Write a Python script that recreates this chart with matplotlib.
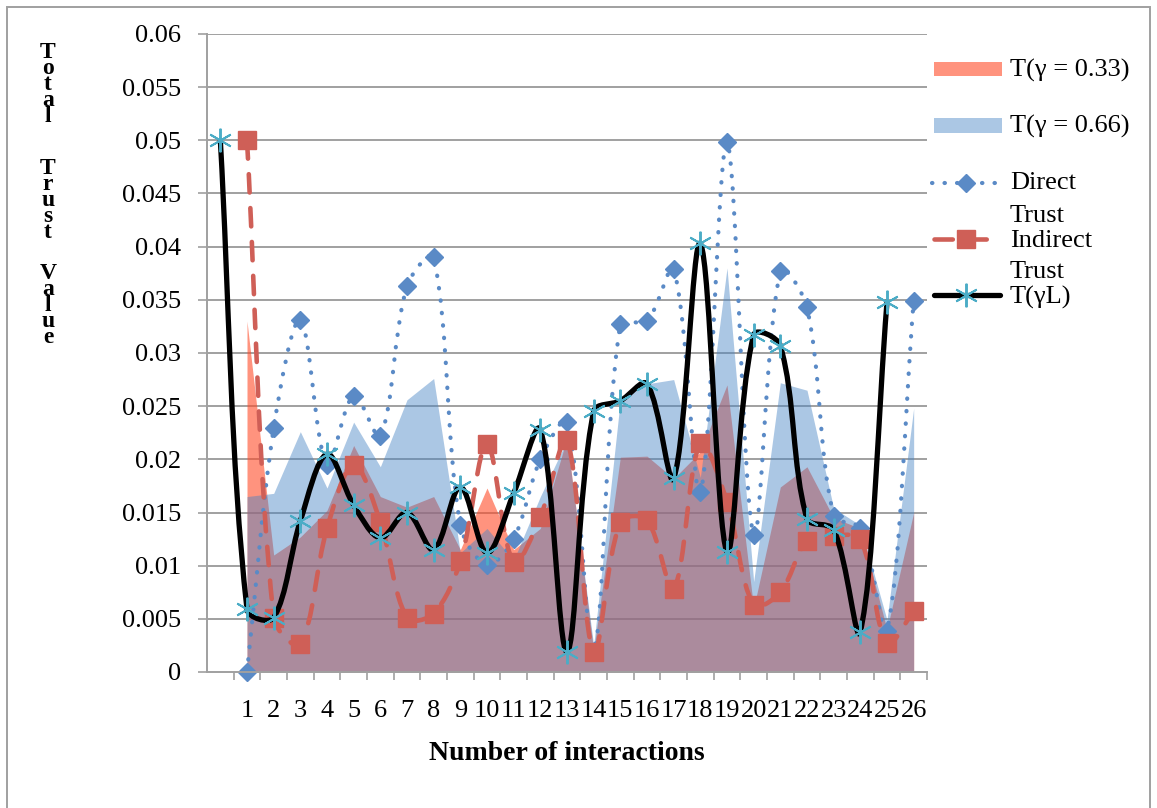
import numpy as np
import matplotlib
matplotlib.use("Agg")
import matplotlib.pyplot as plt
from matplotlib.path import Path
from matplotlib.patches import PathPatch, Rectangle
from matplotlib.lines import Line2D

plt.rcParams['font.family'] = ['Liberation Serif', 'DejaVu Serif']

nan = np.nan
labels = ['', '1', '2', '3', '4', '5', '6', '7', '8', '9', '10', '11', '12', '13',
          '14', '15', '16', '17', '18', '19', '20', '21', '22', '23', '24', '25', '26']

# area series (category 0 empty)
t033 = [nan, 0.033, 0.011, 0.0127, 0.0152, 0.0213, 0.0165, 0.0155, 0.0165, 0.0115,
        0.0173, 0.0115, 0.0135, 0.022, 0.002, 0.0202, 0.0203, 0.0182, 0.0207, 0.027,
        0.006, 0.0174, 0.0193, 0.0145, 0.0135, 0.004, 0.015]
t066 = [nan, 0.0165, 0.0168, 0.0226, 0.0173, 0.0235, 0.0193, 0.0256, 0.0276, 0.0112,
        0.0135, 0.0105, 0.0165, 0.0218, 0.0025, 0.0256, 0.0271, 0.0275, 0.0183, 0.038,
        0.0085, 0.0272, 0.0265, 0.0154, 0.0138, 0.0049, 0.0248]

# line series
direct = [nan, 0.0, 0.0229, 0.0331, 0.0195, 0.026, 0.0222, 0.0363, 0.039, 0.0138,
          0.0101, 0.0125, 0.02, 0.0235, 0.002, 0.0327, 0.033, 0.0379, 0.0169, 0.0498,
          0.0129, 0.0377, 0.0343, 0.0147, 0.0135, 0.0039, 0.0349]
indirect = [nan, 0.05, 0.0051, 0.0026, 0.0135, 0.0195, 0.0141, 0.0051, 0.0055, 0.0104,
            0.0214, 0.0103, 0.0146, 0.0218, 0.0019, 0.0141, 0.0143, 0.0078, 0.0215, 0.016,
            0.0063, 0.0075, 0.0123, 0.0128, 0.0125, 0.0027, 0.0057]
trust_l = [0.05, 0.0059, 0.0051, 0.0142, 0.0205, 0.0157, 0.0126, 0.015, 0.0115, 0.0174,
           0.0112, 0.0168, 0.0228, 0.0019, 0.0245, 0.0255, 0.0271, 0.0182, 0.0403, 0.0113,
           0.0317, 0.0307, 0.0144, 0.0134, 0.0038, 0.0348, nan]

yticks = [0, 0.005, 0.01, 0.015, 0.02, 0.025, 0.03, 0.035, 0.04, 0.045, 0.05, 0.055, 0.06]
ylabels = ['0', '0.005', '0.01', '0.015', '0.02', '0.025', '0.03', '0.035', '0.04',
           '0.045', '0.05', '0.055', '0.06']

c_red_area = '#FF4B28'
c_blue_area = '#4683C4'
c_direct = '#5A8AC6'
c_indirect = '#CF5F57'
c_star = '#4BACC6'
c_grid = '#A0A0A0'

W, H = 1157, 808
AX_W, AX_H = 720, 638


def smooth(xs, ys):
    # excel-like smoothed line: bezier with tangents weighted by segment length
    p = np.array([(a, b) for a, b in zip(xs, ys) if not np.isnan(b)])
    scale = np.array([AX_W / len(labels), AX_H / 0.06])
    q = p * scale
    n = len(q)
    cin = q.copy()
    cout = q.copy()
    for i in range(n):
        a = q[max(i - 1, 0)]
        b = q[min(i + 1, n - 1)]
        d1 = np.hypot(*(q[i] - a))
        d2 = np.hypot(*(b - q[i]))
        if d1 + d2 == 0:
            continue
        t = b - a
        cin[i] = q[i] - t * d1 / (d1 + d2) / 3
        cout[i] = q[i] + t * d2 / (d1 + d2) / 3
    verts = [q[0]]
    codes = [Path.MOVETO]
    for i in range(n - 1):
        verts += [cout[i], cin[i + 1], q[i + 1]]
        codes += [Path.CURVE4] * 3
    return Path(np.array(verts) / scale, codes)


fig = plt.figure(figsize=(W / 100, H / 100), dpi=100)
ax = fig.add_axes([207 / W, 1 - 672 / H, AX_W / W, AX_H / H])

x = np.arange(len(labels))

for v in yticks[1:]:
    ax.axhline(v, color=c_grid, lw=1.4, zorder=0.5)

ax.fill_between(x, t033, color=c_red_area, alpha=0.6, lw=0, zorder=1)
ax.fill_between(x, t066, color=c_blue_area, alpha=0.45, lw=0, zorder=1.1)

ax.add_patch(PathPatch(smooth(x, direct), fill=False, edgecolor=c_direct, lw=3.0,
                       linestyle=(0, (0.1, 2.9)), capstyle='round', zorder=2))
ax.plot(x, direct, ls='none', marker='D', ms=9.5, color=c_direct, zorder=2.1, clip_on=False)

ax.add_patch(PathPatch(smooth(x, indirect), fill=False, edgecolor=c_indirect, lw=3.3,
                       linestyle=(0, (4.0, 3.4)), capstyle='round', zorder=3))
ax.plot(x, indirect, ls='none', marker='s', ms=13, color=c_indirect, zorder=3.1, clip_on=False)

ax.add_patch(PathPatch(smooth(x, trust_l), fill=False, edgecolor='black', lw=3.8,
                       capstyle='round', joinstyle='round', zorder=4))
ax.plot(x, trust_l, ls='none', marker=(6, 2, 0), ms=17, mew=1.4, color=c_star, zorder=4.1,
        clip_on=False)

ax.set_xlim(-0.5, len(labels) - 0.5)
ax.set_ylim(0, 0.06)
ax.set_yticks(yticks)
ax.set_yticklabels(ylabels, fontsize=19)
ax.tick_params(axis='y', length=6.5, width=1.2, color=c_grid, pad=12)

ax.set_xticks(np.arange(0.5, len(labels)))
ax.set_xticklabels([])
ax.set_xticks(x, minor=True)
ax.set_xticklabels(labels, minor=True, fontsize=19)
ax.tick_params(axis='x', which='major', length=6, width=1.2, color=c_grid)
ax.tick_params(axis='x', which='minor', length=0, pad=20)

for s in ['top', 'right']:
    ax.spines[s].set_visible(False)
for s in ['left', 'bottom']:
    ax.spines[s].set_color(c_grid)
    ax.spines[s].set_linewidth(1.4)

ax.set_xlabel('Number of interactions', fontsize=20, fontweight='bold', labelpad=14)

# stacked y-axis title, one letter per line
for word, y0 in [('Total', 42), ('Trust', 158), ('Value', 263)]:
    fig.text(48 / W, 1 - y0 / H, '\n'.join(word), fontsize=17, fontweight='bold',
             ha='center', va='top', multialignment='center', linespacing=0.68)


# legend drawn by hand
def fx(px):
    return px / W


def fy(py):
    return 1 - py / H


fig.add_artist(Rectangle((fx(934), fy(76)), 68 / W, 14 / H, transform=fig.transFigure,
                         color=c_red_area, alpha=0.6, lw=0))
fig.add_artist(Rectangle((fx(934), fy(133)), 68 / W, 15 / H, transform=fig.transFigure,
                         color=c_blue_area, alpha=0.45, lw=0))
fig.add_artist(Line2D([fx(932), fx(1000)], [fy(183), fy(183)], transform=fig.transFigure,
                      color=c_direct, lw=3.0, ls=(0, (0.1, 2.9)), dash_capstyle='round'))
fig.add_artist(Line2D([fx(966)], [fy(183)], transform=fig.transFigure, ls='none',
                      marker='D', ms=9.5, color=c_direct))
fig.add_artist(Line2D([fx(934), fx(998)], [fy(239), fy(239)], transform=fig.transFigure,
                      color=c_indirect, lw=3.3, ls=(0, (4.0, 3.4)), dash_capstyle='round'))
fig.add_artist(Line2D([fx(966)], [fy(239)], transform=fig.transFigure, ls='none',
                      marker='s', ms=13, color=c_indirect))
fig.add_artist(Line2D([fx(934), fx(1000)], [fy(295), fy(295)], transform=fig.transFigure,
                      color='black', lw=3.8, solid_capstyle='round'))
fig.add_artist(Line2D([fx(966)], [fy(295)], transform=fig.transFigure, ls='none',
                      marker=(6, 2, 0), ms=17, mew=1.4, color=c_star))

for txt, py in [('T(γ = 0.33)', 70), ('T(γ = 0.66)', 126), ('Direct', 183),
                ('Trust', 216), ('Indirect', 241), ('Trust', 272), ('T(γL)', 297)]:
    fig.text(fx(1010), fy(py), txt, fontsize=19, ha='left', va='center')

# chart border
fig.add_artist(Rectangle((fx(7), -0.05), (1150 - 7) / W, fy(7) + 0.05,
                         transform=fig.transFigure, fill=False, edgecolor=c_grid, lw=1.4))

fig.savefig('out.png', dpi=100)
